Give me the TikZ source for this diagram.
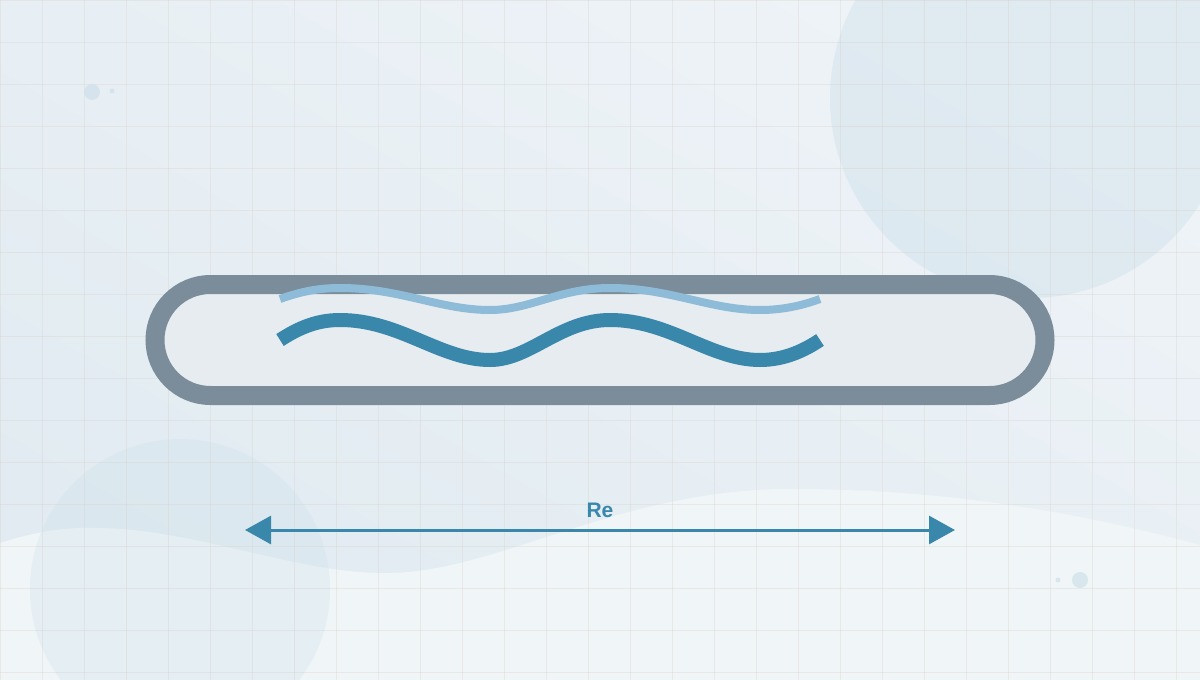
\documentclass[tikz,border=0pt]{standalone}
\usepackage{fontspec}
\newfontfamily\labelfont{Liberation Sans}
\usepackage{tikz}
\usetikzlibrary{%
  positioning,calc,arrows.meta}
\usepackage{xcolor}
\definecolor{bgtop}{RGB}{238,243,247}
\definecolor{bgright}{RGB}{225,235,241}
\definecolor{bglow}{RGB}{240,245,247}
\definecolor{blobblue}{RGB}{206,224,234}
\definecolor{gridline}{RGB}{216,206,200}
\definecolor{tubewall}{RGB}{123,141,154}
\definecolor{tubefill}{RGB}{230,236,239}
\definecolor{flowdark}{RGB}{58,135,172}
\definecolor{flowlight}{RGB}{142,188,216}

\begin{document}
\begin{tikzpicture}[x=1pt,y=-1pt,
  tube/.style={draw=tubewall,fill=tubefill,line width=19pt,
    rounded corners=55.5pt,minimum width=890pt,minimum height=111pt,inner sep=0pt},
  wavedark/.style={flowdark,line width=14pt},
  wavelight/.style={flowlight,line width=8pt},
  flowarrow/.style={flowdark,line width=3pt,
    {Triangle[length=26pt,width=28pt]}-{Triangle[length=26pt,width=28pt]}},
  relabel/.style={font=\labelfont\bfseries\fontsize{21}{24}\selectfont,
    text=flowdark,inner sep=0pt}]
  \useasboundingbox (0,0) rectangle (1200,680);
  \shade[left color=bgtop,right color=bgright,shading angle=-30]
    (0,0) rectangle (1200,680);
  \fill[bglow] (0,543) .. controls (40,530) and (70,527) .. (100,528)
    .. controls (200,530) and (300,575) .. (390,573)
    .. controls (500,571) and (620,489) .. (790,489)
    .. controls (950,489) and (1080,513) .. (1200,545)
    -- (1200,680) -- (0,680) -- cycle;
  \fill[blobblue,opacity=0.45] (1030,98) circle (200);
  \fill[blobblue,opacity=0.3] (180,589) circle (150);
  \foreach \g in {0,42,...,1200}
    \draw[gridline,opacity=0.32,line width=0.8pt] (\g,0) -- (\g,680);
  \foreach \g in {0,42,...,680}
    \draw[gridline,opacity=0.32,line width=0.8pt] (0,\g) -- (1200,\g);
  \foreach \cx/\cy/\r in {92/92/8, 112/91/2.5, 1080/580/8, 1058/580/2.5}
    \fill[blobblue,opacity=0.7] (\cx,\cy) circle (\r);

  \node[tube] (pipe) at (600,340) {};
  \foreach \wstyle/\b/\a in {wavedark/340/20, wavelight/299/11}
    \draw[\wstyle] (280,\b) .. controls (300,\b-0.65*\a) and (318,\b-\a) .. (340,\b-\a)
      .. controls (400,\b-\a) and (440,\b+\a) .. (490,\b+\a)
      .. controls (530,\b+\a) and (560,\b-\a) .. (610,\b-\a)
      .. controls (670,\b-\a) and (710,\b+\a) .. (760,\b+\a)
      .. controls (785,\b+\a) and (805,\b+0.5*\a) .. (820,\b);

  \coordinate (reL) at (245,530);
  \coordinate (reR) at (955,530);
  \draw[flowarrow] (reL) -- (reR);
  \node[relabel,above=12pt of {$(reL)!0.5!(reR)$}] (re) {Re};
\end{tikzpicture}
\end{document}
